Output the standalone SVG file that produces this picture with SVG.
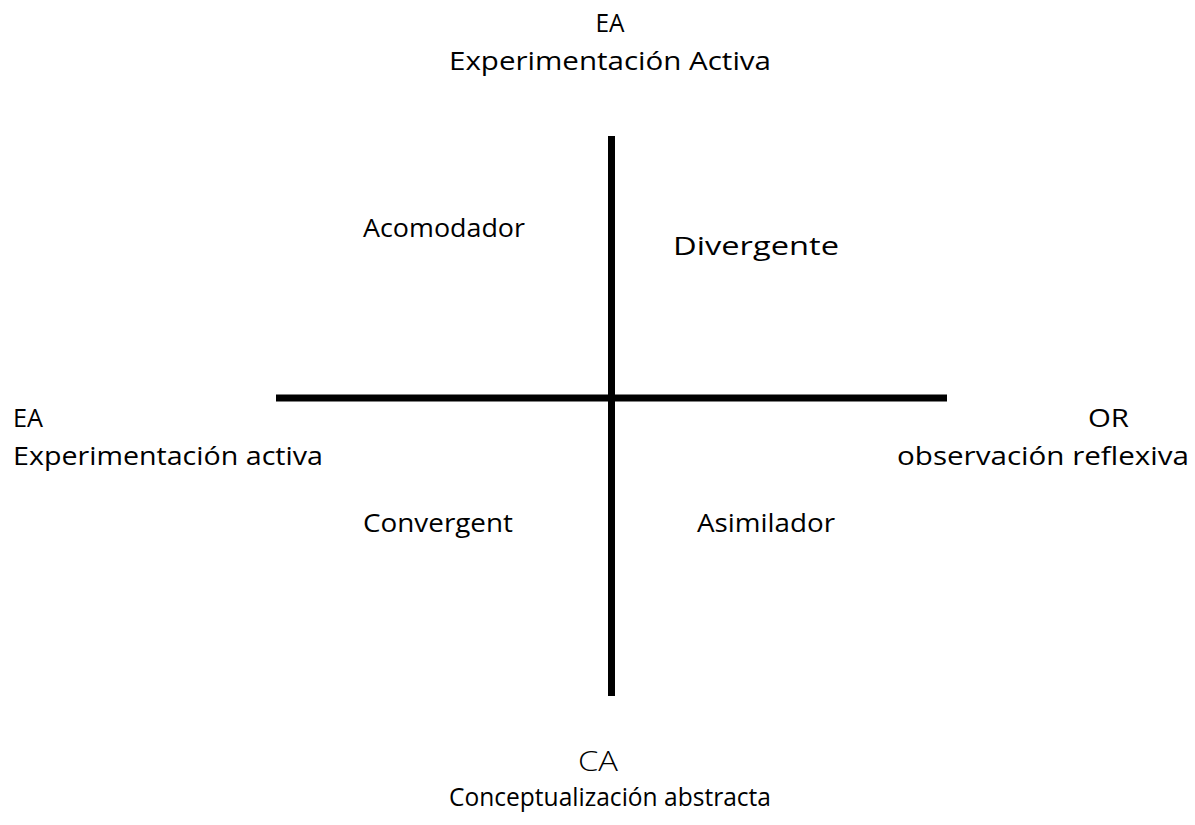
<svg xmlns="http://www.w3.org/2000/svg" width="1195" height="825" viewBox="0 0 1195 825">
<style>
text{font-family:"Open Sans","Liberation Sans",sans-serif;font-size:26px;fill:#000}
.m{text-anchor:middle}
.light{font-weight:300;font-size:27px}
.ax{stroke:#000;stroke-width:7;fill:none}
</style>
<rect width="1195" height="825" fill="#fff"/>
<g id="connectors">
<line class="ax" x1="611.5" y1="136" x2="611.5" y2="696"/>
<line class="ax" x1="276" y1="398" x2="947" y2="398"/>
</g>
<g id="top-label">
<text class="m" x="610" y="31.5" textLength="29" lengthAdjust="spacingAndGlyphs">EA</text>
<text class="m" x="610" y="70" textLength="322" lengthAdjust="spacingAndGlyphs">Experimentación Activa</text>
</g>
<g id="left-label">
<text x="13" y="427" textLength="30" lengthAdjust="spacingAndGlyphs">EA</text>
<text x="13" y="465" textLength="310" lengthAdjust="spacingAndGlyphs">Experimentación activa</text>
</g>
<g id="right-label">
<text x="1088" y="427" textLength="41" lengthAdjust="spacingAndGlyphs">OR</text>
<text x="897" y="465" textLength="292" lengthAdjust="spacingAndGlyphs">observación reflexiva</text>
</g>
<g id="bottom-label">
<text class="m light" x="598" y="771" textLength="40" lengthAdjust="spacingAndGlyphs">CA</text>
<text class="m" x="610" y="806" textLength="322" lengthAdjust="spacingAndGlyphs">Conceptualización abstracta</text>
</g>
<g id="acomodador"><text x="363" y="237" textLength="162" lengthAdjust="spacingAndGlyphs">Acomodador</text></g>
<g id="divergente"><text x="673" y="255" textLength="166" lengthAdjust="spacingAndGlyphs">Divergente</text></g>
<g id="convergent"><text x="363" y="532" textLength="150" lengthAdjust="spacingAndGlyphs">Convergent</text></g>
<g id="asimilador"><text x="697" y="532" textLength="138" lengthAdjust="spacingAndGlyphs">Asimilador</text></g>
</svg>
